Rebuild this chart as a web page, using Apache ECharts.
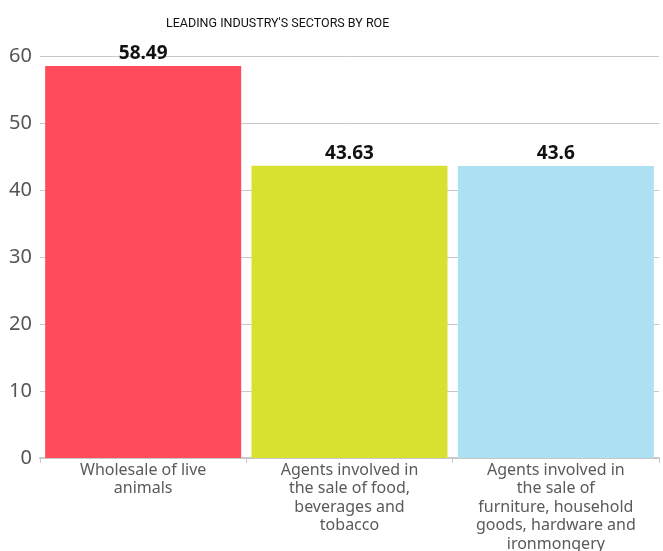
<!DOCTYPE html>
<html>
<head>
<meta charset="utf-8">
<script src="https://cdn.jsdelivr.net/npm/echarts@6/dist/echarts.min.js"></script>
<style>
html,body{margin:0;padding:0;background:#fff;}
#main{width:663px;height:551px;}
</style>
</head>
<body>
<div id="main"></div>
<script>
// categories, values, colours
var categories = [
	'Wholesale of live\nanimals',
	'Agents involved in\nthe sale of food,\nbeverages and\ntobacco',
	'Agents involved in\nthe sale of\nfurniture, household\ngoods, hardware and\nironmongery'
];
var roeValues = [58.49, 43.63, 43.6];
var barColors = ['#FF4B5C', '#D8E030', '#ADE0F2'];

var myChart = echarts.init(document.getElementById('main'));
var option = {
	backgroundColor: '#fff',
	animation: false,
	title: {
		text: "LEADING INDUSTRY'S SECTORS BY ROE",
		left: 161,
		top: 12,
		textStyle: {
			fontFamily: 'Roboto',
			fontSize: 12.5,
			fontWeight: 'normal',
			color: '#111'
		}
	},
	grid: {
		left: 40,
		right: 4,
		top: 56,
		bottom: 93,
		outerBoundsMode: 'none',
		containLabel: false
	},
	xAxis: {
		type: 'category',
		data: categories,
		axisLine: {lineStyle: {color: '#c8c8c8', width: 2}},
		axisTick: {show: true, length: 5, lineStyle: {color: '#c8c8c8'}},
		axisLabel: {
			interval: 0,
			margin: 3,
			fontFamily: 'Noto Sans',
			fontSize: 16,
			lineHeight: 18.5,
			color: '#5a5a5a'
		}
	},
	yAxis: {
		type: 'value',
		min: 0,
		max: 60,
		interval: 10,
		axisLine: {show: false},
		axisTick: {show: false},
		splitLine: {lineStyle: {color: '#c8c8c8', width: 1}},
		axisLabel: {
			margin: 8,
			fontFamily: 'Noto Sans',
			fontSize: 20,
			color: '#555'
		}
	},
	series: [
		{
			type: 'bar',
			data: roeValues,
			barCategoryGap: '5%',
			itemStyle: {
				color: function (params) {
					return barColors[params.dataIndex];
				}
			},
			label: {
				show: true,
				position: 'top',
				distance: 3,
				fontFamily: 'Noto Sans',
				fontSize: 19,
				fontWeight: 'bold',
				color: '#111'
			}
		}
	]
};
myChart.setOption(option);
</script>
</body>
</html>
